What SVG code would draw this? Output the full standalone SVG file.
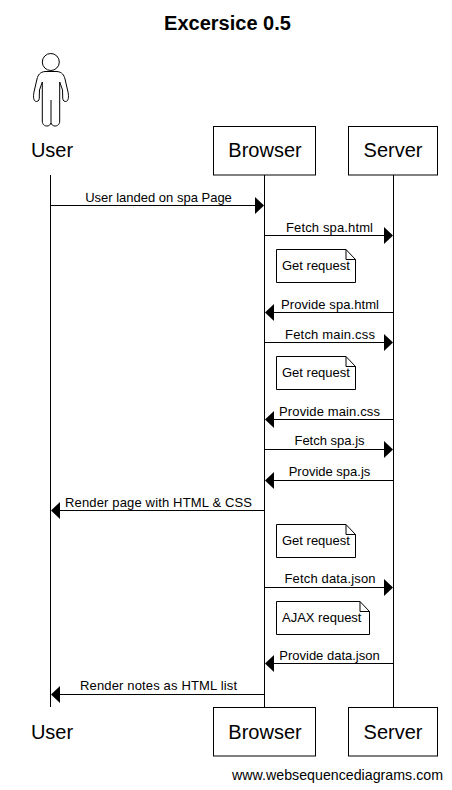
<svg xmlns="http://www.w3.org/2000/svg" width="452" height="790" viewBox="0 0 452 790">
<style>
text{font-family:"Liberation Sans",Arial,sans-serif;fill:#000}
.t{font-size:20px;font-weight:bold;text-anchor:middle}
.p{font-size:20px;text-anchor:middle}
.m{font-size:13px;text-anchor:middle}
.n{font-size:13px}
.w{font-size:14.2px}
.b{fill:#fff;stroke:#000;stroke-width:1}
.l{fill:none;stroke:#000;stroke-width:1}
.a{fill:none;stroke:#000;stroke-width:1}
</style>
<defs>
<path id="ar" d="M0 0L-9 -8.500L-9 8.500Z" fill="#000"/>
<path id="al" d="M0 0L9 -8.500L9 8.500Z" fill="#000"/>
</defs>
<rect width="452" height="790" fill="#fff"/>
<text class="t" x="227.500" y="30">Excersice 0.5</text>
<g id="connectors">
<line class="l" x1="50.500" y1="175" x2="50.500" y2="707"/>
<line class="l" x1="264.500" y1="175" x2="264.500" y2="707"/>
<line class="l" x1="393.500" y1="175" x2="393.500" y2="707"/>
<line class="a" x1="51" y1="205.500" x2="256" y2="205.500"/><use href="#ar" x="264" y="205.500"/>
<text class="m" x="158.500" y="202">User landed on spa Page</text>
<line class="a" x1="265" y1="235.500" x2="385" y2="235.500"/><use href="#ar" x="393" y="235.500"/>
<text class="m" x="329.500" y="232" textLength="87">Fetch spa.html</text>
<line class="a" x1="273" y1="312.500" x2="393" y2="312.500"/><use href="#al" x="265" y="312.500"/>
<text class="m" x="330" y="309" textLength="98">Provide spa.html</text>
<line class="a" x1="265" y1="342.500" x2="385" y2="342.500"/><use href="#ar" x="393" y="342.500"/>
<text class="m" x="330" y="339" textLength="90">Fetch main.css</text>
<line class="a" x1="273" y1="419.500" x2="393" y2="419.500"/><use href="#al" x="265" y="419.500"/>
<text class="m" x="329.500" y="416" textLength="101">Provide main.css</text>
<line class="a" x1="265" y1="449.500" x2="385" y2="449.500"/><use href="#ar" x="393" y="449.500"/>
<text class="m" x="329.500" y="445">Fetch spa.js</text>
<line class="a" x1="273" y1="480.500" x2="393" y2="480.500"/><use href="#al" x="265" y="480.500"/>
<text class="m" x="329.500" y="476">Provide spa.js</text>
<line class="a" x1="59" y1="510.500" x2="264" y2="510.500"/><use href="#al" x="51" y="510.500"/>
<text class="m" x="158.500" y="507" textLength="187">Render page with HTML &amp; CSS</text>
<line class="a" x1="265" y1="587.500" x2="385" y2="587.500"/><use href="#ar" x="393" y="587.500"/>
<text class="m" x="330" y="583" textLength="91">Fetch data.json</text>
<line class="a" x1="273" y1="663.500" x2="393" y2="663.500"/><use href="#al" x="265" y="663.500"/>
<text class="m" x="329.500" y="660">Provide data.json</text>
<line class="a" x1="59" y1="694.500" x2="264" y2="694.500"/><use href="#al" x="51" y="694.500"/>
<text class="m" x="158.500" y="690" textLength="157">Render notes as HTML list</text>
</g>
<g id="user-top">
<circle class="b" cx="50.800" cy="62" r="8.500"/>
<path class="b" d="M45 71.500L57 71.500C62 72 64 75 65 79L68 92C69 97 68.500 101.500 65.500 101.500C63 101.500 62.500 99 62.700 96L62.500 90L59.700 82L59.700 121C59.700 125 57 126 55 126C53 126 51.500 125 51 122.500C50.500 125 49 126 47 126C45 126 42.300 125 42.300 121L42.300 82L39.500 90L39.300 96C39.500 99 39 101.500 36.500 101.500C33.500 101.500 33 97 34 92L37 79C38 75 40 72 45 71.500Z"/>
<line class="l" x1="51" y1="100" x2="51" y2="122"/>
<text class="p" x="52" y="157">User</text>
</g>
<g id="browser-top"><rect class="b" x="213.500" y="126.500" width="102" height="48.500"/><text class="p" x="265" y="157">Browser</text></g>
<g id="server-top"><rect class="b" x="348.500" y="126.500" width="89" height="48.500"/><text class="p" x="393" y="157">Server</text></g>
<g id="note-1"><path class="b" d="M276.500 249.500H346L355.500 259.500V282.500H276.500Z"/><path class="l" d="M346 249.500L346 259.500H355.500"/><text class="n" x="282" y="270">Get request</text></g>
<g id="note-2"><path class="b" d="M276.500 356.500H346L355.500 366.500V389.500H276.500Z"/><path class="l" d="M346 356.500L346 366.500H355.500"/><text class="n" x="282" y="377">Get request</text></g>
<g id="note-3"><path class="b" d="M276.500 524.500H346L355.500 534.500V557.500H276.500Z"/><path class="l" d="M346 524.500L346 534.500H355.500"/><text class="n" x="282" y="545">Get request</text></g>
<g id="note-4"><path class="b" d="M276.500 601.500H360L369.500 611.500V634.500H276.500Z"/><path class="l" d="M360 601.500L360 611.500H369.500"/><text class="n" x="282" y="622">AJAX request</text></g>
<g id="user-bottom"><text class="p" x="52" y="739">User</text></g>
<g id="browser-bottom"><rect class="b" x="213.500" y="707.500" width="102" height="48.500"/><text class="p" x="265" y="739">Browser</text></g>
<g id="server-bottom"><rect class="b" x="348.500" y="707.500" width="89" height="48.500"/><text class="p" x="393" y="739">Server</text></g>
<text class="w" x="232" y="780" textLength="211">www.websequencediagrams.com</text>
</svg>
